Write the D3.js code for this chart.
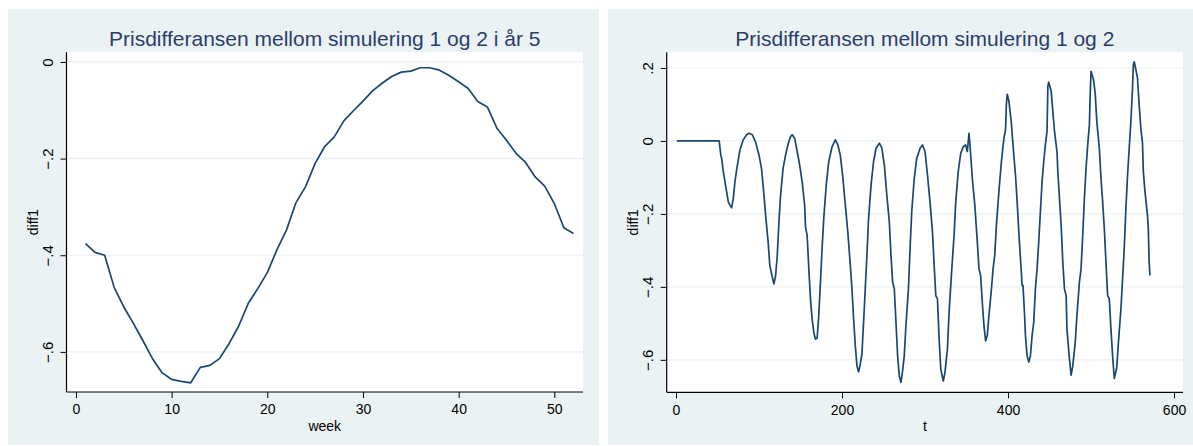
<!DOCTYPE html>
<html>
<head>
<meta charset="utf-8">
<style>
  body { margin: 0; background: #fff; }
  svg { display: block; font-family: 'Liberation Sans', Arial, sans-serif; }
  .panel-bg { fill: #eaf2f3; }
  .plot-bg { fill: #fff; }
  .grid line { stroke: #eaf2f3; stroke-width: 1.2px; }
  .axis .tick line { stroke: #000; stroke-width: 1px; }
  .axis .tick text { font-size: 14px; fill: #000; }
  .y-ticks .tick text { font-size: 15px; }
  .title { font-size: 21px; fill: #2b3d6b; }
  .axis-title { font-size: 14px; fill: #000; }
  .series { fill: none; stroke: #1a476f; stroke-width: 1.7px; stroke-linejoin: round; }
</style>
</head>
<body>
<svg width="1193" height="446"></svg>
<script src="https://d3js.org/d3.v7.min.js"></script>
<script>
// left panel: weekly price difference in year 5
const weeks = d3.range(1, 53);
const diffWeek = [
  -0.376, -0.394, -0.400, -0.467, -0.507, -0.541, -0.577, -0.614, -0.643, -0.657,
  -0.661, -0.664, -0.632, -0.628, -0.614, -0.583, -0.547, -0.500, -0.469, -0.436,
  -0.389, -0.348, -0.291, -0.258, -0.210, -0.175, -0.155, -0.122, -0.101, -0.081,
  -0.060, -0.044, -0.030, -0.021, -0.019, -0.012, -0.012, -0.017, -0.028, -0.041,
  -0.055, -0.082, -0.093, -0.137, -0.162, -0.189, -0.208, -0.238, -0.257, -0.293,
  -0.343, -0.355
];
const leftXTicks = [0, 10, 20, 30, 40, 50];
const leftYTicks = [0, -0.2, -0.4, -0.6];

// right panel: price difference over the whole run
const tPoints = [
  1, 52, 54, 55, 57, 59, 61, 63, 65, 67, 69, 71, 73, 75, 77, 81, 85, 88, 92, 96,
  100, 103, 106, 108, 111, 113, 116, 118, 120, 122, 124, 126, 129, 132, 135, 138, 140, 143, 146, 149,
  152, 155, 156, 158, 160, 162, 164, 166, 168, 170, 172, 174, 176, 178, 181, 184, 188, 192, 195, 198,
  201, 204, 207, 210, 212, 214, 216, 218, 220, 222, 224, 226, 228, 230, 232, 235, 238, 241, 245, 248,
  251, 254, 257, 259, 261, 263, 265, 267, 269, 271, 273, 275, 277, 280, 282, 284, 287, 290, 294, 297,
  300, 303, 306, 309, 311, 313, 315, 317, 319, 322, 324, 327, 329, 332, 335, 337, 340, 343, 346, 349,
  351, 353, 354, 357, 360, 363, 365, 367, 369, 371, 373, 375, 377, 380, 382, 384, 386, 389, 392, 395,
  397, 398, 399, 401, 404, 407, 409, 411, 413, 415, 417, 418, 420, 421, 423, 425, 427, 429, 431, 433,
  435, 437, 439, 441, 443, 445, 447, 448, 449, 452, 454, 456, 458, 459, 460, 462, 464, 466, 468, 470,
  471, 474, 476, 478, 481, 483, 486, 488, 490, 492, 494, 496, 498, 499, 500, 503, 505, 507, 510, 512,
  514, 516, 518, 520, 522, 524, 526, 528, 531, 533, 536, 538, 540, 542, 544, 546, 548, 550, 551, 552,
  554, 556, 558, 560, 562, 563, 565, 568, 569, 570, 571
];
const diffT = [
  0, 0, -0.039, -0.048, -0.084, -0.112, -0.139, -0.167, -0.176, -0.183, -0.158, -0.112, -0.080, -0.052, -0.025, 0.003, 0.017, 0.021, 0.017, -0.004,
  -0.039, -0.075, -0.149, -0.204, -0.277, -0.341, -0.373, -0.392, -0.369, -0.314, -0.222, -0.149, -0.075, -0.039, -0.009, 0.012, 0.017, 0.007, -0.029, -0.066,
  -0.112, -0.176, -0.236, -0.259, -0.350, -0.433, -0.488, -0.525, -0.543, -0.541, -0.479, -0.387, -0.295, -0.213, -0.121, -0.057, -0.016, 0.003, -0.011, -0.040,
  -0.100, -0.176, -0.250, -0.341, -0.406, -0.488, -0.561, -0.617, -0.633, -0.612, -0.584, -0.497, -0.406, -0.314, -0.213, -0.121, -0.057, -0.020, -0.006, -0.020,
  -0.066, -0.149, -0.222, -0.314, -0.387, -0.406, -0.497, -0.589, -0.644, -0.662, -0.630, -0.589, -0.506, -0.406, -0.295, -0.194, -0.103, -0.048, -0.020, -0.011,
  -0.029, -0.094, -0.167, -0.250, -0.341, -0.424, -0.433, -0.543, -0.626, -0.658, -0.635, -0.571, -0.470, -0.360, -0.259, -0.167, -0.084, -0.034, -0.016, -0.011,
  -0.029, 0.021, -0.006, -0.103, -0.176, -0.277, -0.350, -0.369, -0.442, -0.506, -0.548, -0.534, -0.479, -0.406, -0.350, -0.314, -0.231, -0.139, -0.057, 0.007,
  0.030, 0.099, 0.128, 0.110, 0.050, -0.040, -0.094, -0.167, -0.250, -0.323, -0.396, -0.396, -0.479, -0.534, -0.589, -0.606, -0.589, -0.534, -0.497, -0.406,
  -0.350, -0.277, -0.194, -0.112, -0.057, -0.011, 0.026, 0.150, 0.161, 0.136, 0.081, 0.026, -0.011, -0.029, -0.084, -0.158, -0.231, -0.332, -0.406, -0.424,
  -0.516, -0.598, -0.642, -0.617, -0.552, -0.479, -0.387, -0.350, -0.259, -0.158, -0.075, -0.011, 0.044, 0.127, 0.191, 0.168, 0.131, 0.053, -0.020, -0.103,
  -0.167, -0.240, -0.332, -0.424, -0.433, -0.516, -0.589, -0.651, -0.621, -0.552, -0.461, -0.378, -0.295, -0.185, -0.094, -0.020, 0.053, 0.145, 0.209, 0.217,
  0.196, 0.172, 0.099, 0.035, -0.006, -0.084, -0.139, -0.204, -0.240, -0.332, -0.369
];
const rightXTicks = [0, 200, 400, 600];
const rightYTicks = [0.2, 0, -0.2, -0.4, -0.6];

// Stata style labels: "-.2", "0", ".2"
const stataFmt = v => v === 0 ? "0" : d3.format(".1f")(v).replace("0.", ".");

const svg = d3.select("svg");

function drawPanel(p) {
  const g = svg.append("g");

  g.append("rect").attr("class", "panel-bg")
    .attr("x", p.box[0]).attr("y", p.box[1])
    .attr("width", p.box[2]).attr("height", p.box[3]);

  const x = d3.scaleLinear().domain(p.xDomain).range([p.left, p.right]);
  const y = d3.scaleLinear().domain(p.yDomain).range([p.bottom, p.top]);

  g.append("rect").attr("class", "plot-bg")
    .attr("x", p.left).attr("y", p.top)
    .attr("width", p.right - p.left).attr("height", p.bottom - p.top);

  // grid
  g.append("g").attr("class", "grid")
    .selectAll("line")
    .data(p.yTicks)
    .join("line")
    .attr("x1", p.left).attr("x2", p.right)
    .attr("y1", d => y(d)).attr("y2", d => y(d));

  const line = d3.line()
    .x((d, i) => x(p.xs[i]))
    .y(d => y(d));

  g.append("path").attr("class", "series")
    .attr("d", line(p.ys));

  // y axis, labels turned like Stata
  const yAxis = g.append("g").attr("class", "axis y-ticks")
    .attr("transform", `translate(${p.left},0)`)
    .call(d3.axisLeft(y).tickValues(p.yTicks).tickFormat(stataFmt).tickSize(6).tickSizeOuter(0));
  yAxis.selectAll(".tick text")
    .attr("text-anchor", "middle")
    .attr("x", 0).attr("dy", 0).attr("y", 0)
    .attr("transform", "translate(-13.5,0) rotate(-90)");

  g.append("g").attr("class", "axis")
    .attr("transform", `translate(0,${p.bottom})`)
    .call(d3.axisBottom(x).tickValues(p.xTicks).tickFormat(d3.format("d")).tickSize(6).tickSizeOuter(0))
    .selectAll(".tick text").attr("dy", "0.95em");

  // axis lines only over the plot span
  g.selectAll(".axis .domain").remove();
  g.append("line").attr("x1", p.left).attr("x2", p.left)
    .attr("y1", p.top).attr("y2", p.bottom)
    .style("stroke", "#000").style("stroke-width", "1.2px");
  g.append("line").attr("x1", p.left).attr("x2", p.right)
    .attr("y1", p.bottom).attr("y2", p.bottom)
    .style("stroke", "#000").style("stroke-width", "1.2px");

  g.append("text").attr("class", "title")
    .attr("x", (p.left + p.right) / 2).attr("y", 45.5)
    .attr("text-anchor", "middle")
    .text(p.title);

  g.append("text").attr("class", "axis-title")
    .attr("x", (p.left + p.right) / 2).attr("y", 431)
    .attr("text-anchor", "middle")
    .text(p.xLabel);

  g.append("text").attr("class", "axis-title")
    .attr("transform", `translate(${p.left - 29},${(p.top + p.bottom) / 2}) rotate(-90)`)
    .attr("text-anchor", "middle")
    .text("diff1");
}

drawPanel({
  box: [8, 9, 591, 436],
  left: 66.5, right: 583, top: 52.3, bottom: 392,
  xDomain: [-0.99, 53.0], yDomain: [-0.683, 0.02],
  xs: weeks, ys: diffWeek,
  xTicks: leftXTicks, yTicks: leftYTicks,
  title: "Prisdifferansen mellom simulering 1 og 2 i år 5",
  xLabel: "week"
});

drawPanel({
  box: [608, 9, 585, 436],
  left: 666.7, right: 1183, top: 52.3, bottom: 392.3,
  xDomain: [-11.2, 610.8], yDomain: [-0.689, 0.243],
  xs: tPoints, ys: diffT,
  xTicks: rightXTicks, yTicks: rightYTicks,
  title: "Prisdifferansen mellom simulering 1 og 2",
  xLabel: "t"
});
</script>
</body>
</html>
